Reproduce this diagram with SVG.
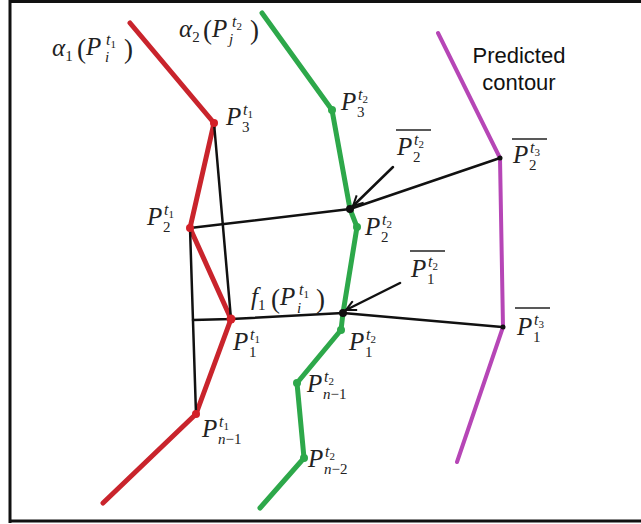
<svg xmlns="http://www.w3.org/2000/svg" width="641" height="524" viewBox="0 0 641 524">
<defs>
<style>
.m{font-family:"Liberation Serif",serif;font-style:italic;font-size:25px;fill:#222}
.u{font-family:"Liberation Serif",serif;font-style:normal;font-size:15px;fill:#222}
.si{font-family:"Liberation Serif",serif;font-style:italic;font-size:15px;fill:#222}
.pr{font-family:"Liberation Serif",serif;font-style:normal;font-size:27px;fill:#222}
.s{font-family:"Liberation Serif",serif;font-style:italic;font-size:16px;fill:#222}
.ss{font-family:"Liberation Serif",serif;font-style:normal;font-size:11px;fill:#222}
.it{font-style:italic}
.lbl{font-family:"Liberation Sans",Arial,sans-serif;font-size:22px;fill:#111}
.bk{stroke:#111;stroke-width:2.5;fill:none;stroke-linecap:round;stroke-linejoin:round}
.bar{stroke:#222;stroke-width:1.4}
.red{stroke:#c9242c;stroke-width:5;fill:none;stroke-linecap:round;stroke-linejoin:round}
.grn{stroke:#2da84a;stroke-width:5;fill:none;stroke-linecap:round;stroke-linejoin:round}
.mag{stroke:#b646b6;stroke-width:4;fill:none;stroke-linecap:round;stroke-linejoin:round}
</style>
<marker id="ah" viewBox="0 0 12 12" refX="11" refY="6" markerWidth="12" markerHeight="12" markerUnits="userSpaceOnUse" orient="auto">
<path d="M1,1 L11,6 L1,11" fill="none" stroke="#111" stroke-width="2"/>
</marker>
</defs>
<rect width="641" height="524" fill="#fff"/>
<g id="frame" stroke="#111" stroke-width="3" fill="none">
<line x1="10" y1="1.5" x2="641" y2="1.5"/>
<line x1="10" y1="0" x2="10" y2="523"/>
<line x1="10" y1="521" x2="641" y2="521"/>
</g>

<g id="contour-t1"><polyline class="red" points="130,23 214,123 190,228 231,319 196,414 103,503"/></g>
<g id="contour-t2"><polyline class="grn" points="262,13 332,110 350,209 357,227 343,313 341,330 297,383 304,458 260,508"/></g>
<g id="contour-t3"><polyline class="mag" points="438,33 500,158 503,327 457,462"/></g>

<g id="connectors">
<line class="bk" x1="214" y1="123" x2="231" y2="319"/>
<line class="bk" x1="190" y1="228" x2="196" y2="414"/>
<line class="bk" x1="190" y1="228" x2="350" y2="209"/>
<line class="bk" x1="350" y1="209" x2="500" y2="158"/>
<polyline class="bk" points="193,320 231,319 343,313 502,327"/>
<line class="bk" x1="393" y1="167" x2="353" y2="206" marker-end="url(#ah)"/>
<line class="bk" x1="400" y1="283" x2="346" y2="310" marker-end="url(#ah)"/>
</g>

<g id="points">
<g fill="#d42028">
<circle cx="214" cy="123" r="4"/>
<circle cx="190" cy="228" r="4"/>
<circle cx="231" cy="319" r="4.5"/>
<circle cx="196" cy="414" r="4"/>
</g>
<g fill="#2da84a">
<circle cx="332" cy="110" r="4"/>
<circle cx="357" cy="227" r="4"/>
<circle cx="341" cy="330" r="4"/>
<circle cx="297" cy="383" r="4"/>
<circle cx="304" cy="458" r="4"/>
</g>
<g fill="#111">
<circle cx="350" cy="209" r="4"/>
<circle cx="343" cy="313" r="4"/>
<circle cx="500" cy="158" r="2.5"/>
<circle cx="503" cy="327" r="2.5"/>
</g>
</g>

<g id="label-alpha1">
<text class="m" x="52" y="56">α<tspan class="u" dy="5">1</tspan></text>
<text class="pr" x="77" y="58">(</text>
<text class="m" x="86" y="55">P</text>
<text class="s" x="106" y="45">t<tspan class="ss" dy="3">1</tspan></text>
<text class="si" x="105" y="62">i</text>
<text class="pr" x="124" y="58">)</text>
</g>
<g id="label-alpha2">
<text class="m" x="179" y="37">α<tspan class="u" dy="5">2</tspan></text>
<text class="pr" x="203" y="39">(</text>
<text class="m" x="212" y="37">P</text>
<text class="s" x="232" y="27">t<tspan class="ss" dy="3">2</tspan></text>
<text class="si" x="229" y="44">j</text>
<text class="pr" x="250" y="39">)</text>
</g>
<g id="label-predicted">
<text class="lbl" x="519" y="63" text-anchor="middle">Predicted</text>
<text class="lbl" x="519" y="90" text-anchor="middle">contour</text>
</g>

<g id="label-P3t1"><text class="m" x="226" y="125">P</text><text class="s" x="243" y="115">t<tspan class="ss" dy="3">1</tspan></text><text class="u" x="242" y="132">3</text></g>
<g id="label-P3t2"><text class="m" x="341" y="110">P</text><text class="s" x="358" y="100">t<tspan class="ss" dy="3">2</tspan></text><text class="u" x="357" y="117">3</text></g>
<g id="label-P2t1"><text class="m" x="147" y="225">P</text><text class="s" x="164" y="215">t<tspan class="ss" dy="3">1</tspan></text><text class="u" x="163" y="232">2</text></g>
<g id="label-P2t2"><text class="m" x="365" y="235">P</text><text class="s" x="382" y="225">t<tspan class="ss" dy="3">2</tspan></text><text class="u" x="381" y="242">2</text></g>
<g id="label-P1t1"><text class="m" x="233" y="350">P</text><text class="s" x="250" y="340">t<tspan class="ss" dy="3">1</tspan></text><text class="u" x="249" y="357">1</text></g>
<g id="label-P1t2"><text class="m" x="349" y="350">P</text><text class="s" x="366" y="340">t<tspan class="ss" dy="3">2</tspan></text><text class="u" x="365" y="357">1</text></g>
<g id="label-Pn1t1"><text class="m" x="202" y="437">P</text><text class="s" x="219" y="427">t<tspan class="ss" dy="3">1</tspan></text><text class="u" x="218" y="444"><tspan class="it">n</tspan>−1</text></g>
<g id="label-Pn1t2"><text class="m" x="307" y="392">P</text><text class="s" x="324" y="382">t<tspan class="ss" dy="3">2</tspan></text><text class="u" x="323" y="399"><tspan class="it">n</tspan>−1</text></g>
<g id="label-Pn2t2"><text class="m" x="308" y="467">P</text><text class="s" x="325" y="457">t<tspan class="ss" dy="3">2</tspan></text><text class="u" x="324" y="474"><tspan class="it">n</tspan>−2</text></g>

<g id="label-f1">
<text class="m" x="251" y="305">f<tspan class="u" dy="5">1</tspan></text>
<text class="pr" x="271" y="308">(</text>
<text class="m" x="280" y="305">P</text>
<text class="s" x="299" y="295">t<tspan class="ss" dy="3">1</tspan></text>
<text class="si" x="297" y="313">i</text>
<text class="pr" x="316" y="308">)</text>
</g>

<g id="label-P2t2bar"><line class="bar" x1="396" y1="130" x2="431" y2="130"/><text class="m" x="397" y="155">P</text><text class="s" x="414" y="145">t<tspan class="ss" dy="3">2</tspan></text><text class="u" x="413" y="162">2</text></g>
<g id="label-P2t3bar"><line class="bar" x1="512" y1="139" x2="547" y2="139"/><text class="m" x="513" y="163">P</text><text class="s" x="530" y="153">t<tspan class="ss" dy="3">3</tspan></text><text class="u" x="529" y="170">2</text></g>
<g id="label-P1t2bar"><line class="bar" x1="410" y1="251" x2="445" y2="251"/><text class="m" x="411" y="277">P</text><text class="s" x="428" y="267">t<tspan class="ss" dy="3">2</tspan></text><text class="u" x="427" y="284">1</text></g>
<g id="label-P1t3bar"><line class="bar" x1="515" y1="308" x2="550" y2="308"/><text class="m" x="517" y="335">P</text><text class="s" x="534" y="325">t<tspan class="ss" dy="3">3</tspan></text><text class="u" x="533" y="342">1</text></g>
</svg>
